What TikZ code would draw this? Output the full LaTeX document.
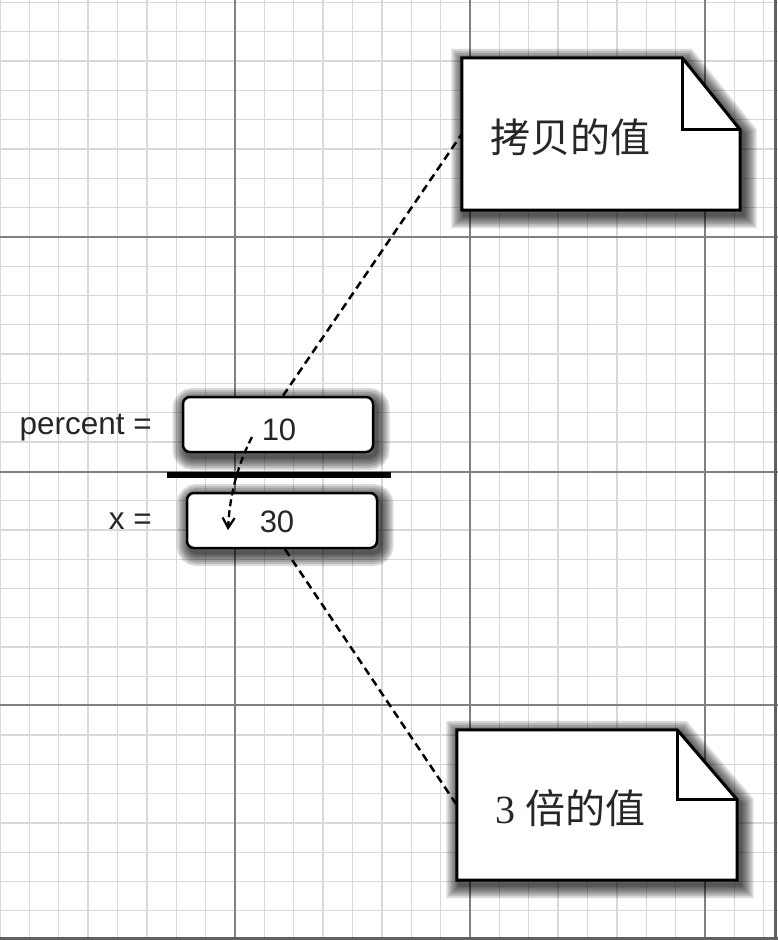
\documentclass[tikz,border=0pt]{standalone}
\usepackage{fontspec}
\setmainfont{Liberation Sans}
\newfontfamily\cjk{Noto Sans CJK SC}
\newfontfamily\serifnum{Liberation Serif}
\usetikzlibrary{arrows.meta}
\begin{document}
\begin{tikzpicture}[x=1pt,y=-1pt,
  minorgrid/.style={draw=black!15, line width=1.3pt},
  majorgrid/.style={draw=black!50, line width=1.8pt},
  edgeline/.style={draw=black!62, line width=3pt},
  hazelayer/.style={preaction={draw=black, draw opacity=0.14, line width=#1, transform canvas={xshift=3pt,yshift=-4.5pt}}},
  softshadow/.style={hazelayer=27pt, hazelayer=23pt, hazelayer=19pt, hazelayer=15pt, hazelayer=11pt, hazelayer=7pt, hazelayer=4pt},
  varbox/.style={draw=black, line width=2.5pt, fill=white, rounded corners=7pt, minimum width=190pt, minimum height=55pt, inner sep=0pt, softshadow},
  numtext/.style={font=\fontsize{31}{36}\selectfont, inner sep=0pt, text=black!85},
  varlabel/.style={font=\fontsize{31.5}{36}\selectfont, anchor=east, inner sep=0pt, text=black!85},
  notebody/.style={minimum width=278pt, minimum height=152pt, inner sep=0pt},
  notetext/.style={font=\cjk\fontsize{40}{46}\selectfont, inner sep=0pt, text=black!85},
  notepath/.style={draw=black, line width=3pt, fill=white, line join=miter, softshadow},
  foldline/.style={draw=black, line width=3pt, line join=miter},
  leader/.style={draw=black, line width=2.5pt, dash pattern=on 8pt off 5pt},
  copyarrow/.style={draw=black, line width=2.3pt, dash pattern=on 7pt off 4pt, -{Straight Barb[length=10pt,width=12pt,line width=2.3pt]}},
  divider/.style={draw=black, line width=6.5pt}
]
\useasboundingbox (0,0) rectangle (778,940);
\fill[white] (0,0) rectangle (778,940);
% grid
\foreach \i in {0,...,26} \draw[minorgrid] (\i*29.375,0) -- (\i*29.375,940);
\foreach \j in {0,...,32} \draw[minorgrid] (0,2.5+\j*29.3) -- (778,2.5+\j*29.3);
\foreach \x in {235,470,705} \draw[majorgrid] (\x,0) -- (\x,940);
\foreach \y in {237,472,705} \draw[majorgrid] (0,\y) -- (778,\y);
\draw[edgeline] (775,0) -- (775,940);
\draw[edgeline] (0,938.5) -- (778,938.5);

% variable boxes
\node[varbox] (b10) at (278,424.5) {};
\node[varbox] (b30) at (282,520.5) {};
\node[numtext] (t10) at (279,430) {10};
\node[numtext] (t30) at (277,522) {30};
\node[varlabel] (lp) at (152,428) {percent =};
\node[varlabel] (lx) at (152,521) {x =};
\coordinate (dl) at (167,475);
\coordinate (dr) at (391,475);
\draw[divider] (dl) -- (dr);

% notes
\node[notebody] (n1) at (601,134) {};
\path[notepath] (n1.north west) -- ([xshift=-58pt]n1.north east) -- ([yshift=-72pt]n1.north east) -- (n1.south east) -- (n1.south west) -- cycle;
\draw[foldline] ([xshift=-58pt]n1.north east) -- ([xshift=-58pt,yshift=-72pt]n1.north east) -- ([yshift=-72pt]n1.north east);
\node[notetext] (n1t) at (570,137) {拷贝的值};

\node[notebody, minimum width=280pt, minimum height=150pt] (n2) at (597,805) {};
\path[notepath] (n2.north west) -- ([xshift=-60pt]n2.north east) -- ([yshift=-70pt]n2.north east) -- (n2.south east) -- (n2.south west) -- cycle;
\draw[foldline] ([xshift=-60pt]n2.north east) -- ([xshift=-60pt,yshift=-70pt]n2.north east) -- ([yshift=-70pt]n2.north east);
\node[notetext] (n2t) at (570,808) {{\serifnum 3}\hspace{0.25em}倍的值};

% leaders
\draw[leader] ([xshift=5pt]b10.north) -- (n1.west);
\draw[leader] ([xshift=3pt]b30.south) -- (n2.west);

% copy arrow
\coordinate (a1) at (252,437);
\coordinate (a2) at (228,530);
\draw[copyarrow] (a1) .. controls (240,460) and (230,490) .. (a2);
\end{tikzpicture}
\end{document}
